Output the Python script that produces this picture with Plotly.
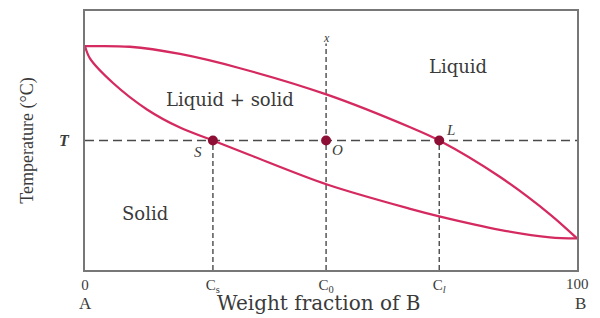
import plotly.graph_objects as go

# Data (x: weight % of B, y: temperature in relative units 0-100)
liquidus_x = [0, 9.1, 19.3, 31.5, 49.2, 66.1, 72.0, 84.3, 94.5, 100]
liquidus_y = [86.4, 86.2, 83.4, 77.9, 67.7, 55.1, 50.0, 36.0, 21.5, 12.2]
solidus_x = [0, 1.0, 5.7, 12.6, 19.3, 26.0, 33.5, 49.2, 66.1, 72.2, 84.3, 94.5, 100]
solidus_y = [86.4, 81.7, 72.2, 62.0, 55.0, 50.0, 44.4, 33.0, 23.6, 20.6, 15.5, 12.6, 12.2]

T_level = 50
comp_names = ["S", "O", "L"]
comp_x = [26, 49, 72]
comp_tick_text = ["C<sub>s</sub>", "C<sub>0</sub>", "C<sub><i>l</i></sub>"]
c0_top = 87.5

tick_vals = [0] + comp_x
tick_text = ["0"] + comp_tick_text
end_tick_text = "100"

curve_color = "#d42a60"
point_color = "#8e0f35"
dash_color = "#4a4a4a"
serif = "Liberation Serif, Times New Roman, serif"
wide_serif = "DejaVu Serif, serif"
text_color = "#3a3a3a"

fig = go.Figure()

# dashed construction lines
fig.add_trace(go.Scatter(x=[0, 100], y=[T_level, T_level], mode="lines",
                         line=dict(color=dash_color, width=1.3, dash="9px,5px"),
                         hoverinfo="skip", showlegend=False))
for cx, top in zip(comp_x, [T_level, c0_top, T_level]):
    fig.add_trace(go.Scatter(x=[cx, cx], y=[0, top], mode="lines",
                             line=dict(color=dash_color, width=1.4, dash="5px,3px"),
                             hoverinfo="skip", showlegend=False))

# liquidus and solidus
fig.add_trace(go.Scatter(x=liquidus_x, y=liquidus_y, mode="lines",
                         line=dict(color=curve_color, width=2.3, shape="spline", smoothing=0.9),
                         showlegend=False))
fig.add_trace(go.Scatter(x=solidus_x, y=solidus_y, mode="lines",
                         line=dict(color=curve_color, width=2.3, shape="spline", smoothing=0.9),
                         showlegend=False))

# points S, O, L
fig.add_trace(go.Scatter(x=comp_x, y=[T_level] * 3, mode="markers",
                         marker=dict(color=point_color, size=10),
                         showlegend=False))

row2 = -0.128
annotations = [
    dict(x=75.8, y=78.7, text="Liquid", font=dict(size=18, family=wide_serif)),
    dict(x=29.5, y=65.8, text="Liquid + solid", font=dict(size=18, family=wide_serif)),
    dict(x=12.2, y=21.7, text="Solid", font=dict(size=18, family=wide_serif)),
    dict(x=comp_x[1], y=89.6, text="<i>x</i>", font=dict(size=12)),
    dict(x=23.0, y=45.6, text="<i>S</i>", font=dict(size=15)),
    dict(x=51.4, y=46.2, text="<i>O</i>", font=dict(size=15)),
    dict(x=74.2, y=54.2, text="<i>L</i>", font=dict(size=15)),
    dict(x=-0.041, xref="paper", y=T_level, text="<i><b>T</b></i>", font=dict(size=16)),
    dict(x=1, xref="paper", y=-0.055, yref="paper", text=end_tick_text, xanchor="right",
         xshift=14, font=dict(size=15)),
    dict(x=0, xref="paper", y=row2, yref="paper", text="A", font=dict(size=17)),
    dict(x=1, xref="paper", xshift=3, y=row2, yref="paper", text="B", font=dict(size=17)),
    dict(x=0.476, xref="paper", y=row2, yref="paper", text="Weight fraction of B",
         font=dict(size=20, family=wide_serif)),
]
for a in annotations:
    a.setdefault("xref", "x")
    a.setdefault("yref", "y")
    a.setdefault("xanchor", "center")
    a["showarrow"] = False
    a["yanchor"] = "middle"
fig.update_layout(annotations=annotations)

fig.update_xaxes(range=[0, 100], tickvals=tick_vals, ticktext=tick_text, showgrid=False,
                 zeroline=False, showline=True, linecolor="#777777", linewidth=2, mirror=True,
                 ticks="", tickfont=dict(size=15, color=text_color))
fig.update_yaxes(range=[0, 100], showticklabels=False, showgrid=False, zeroline=False,
                 showline=True, linecolor="#777777", linewidth=2, mirror=True, ticks="",
                 title=dict(text="Temperature (°C)", font=dict(size=18, color=text_color), standoff=45))

# the page body adds an 8px margin; figure sized so the plot area matches the reference
fig.update_layout(width=584, height=310, margin=dict(l=77, r=15, t=1, b=48),
                  paper_bgcolor="white", plot_bgcolor="white",
                  font=dict(family=serif, color=text_color))

fig.write_html("out.html")
